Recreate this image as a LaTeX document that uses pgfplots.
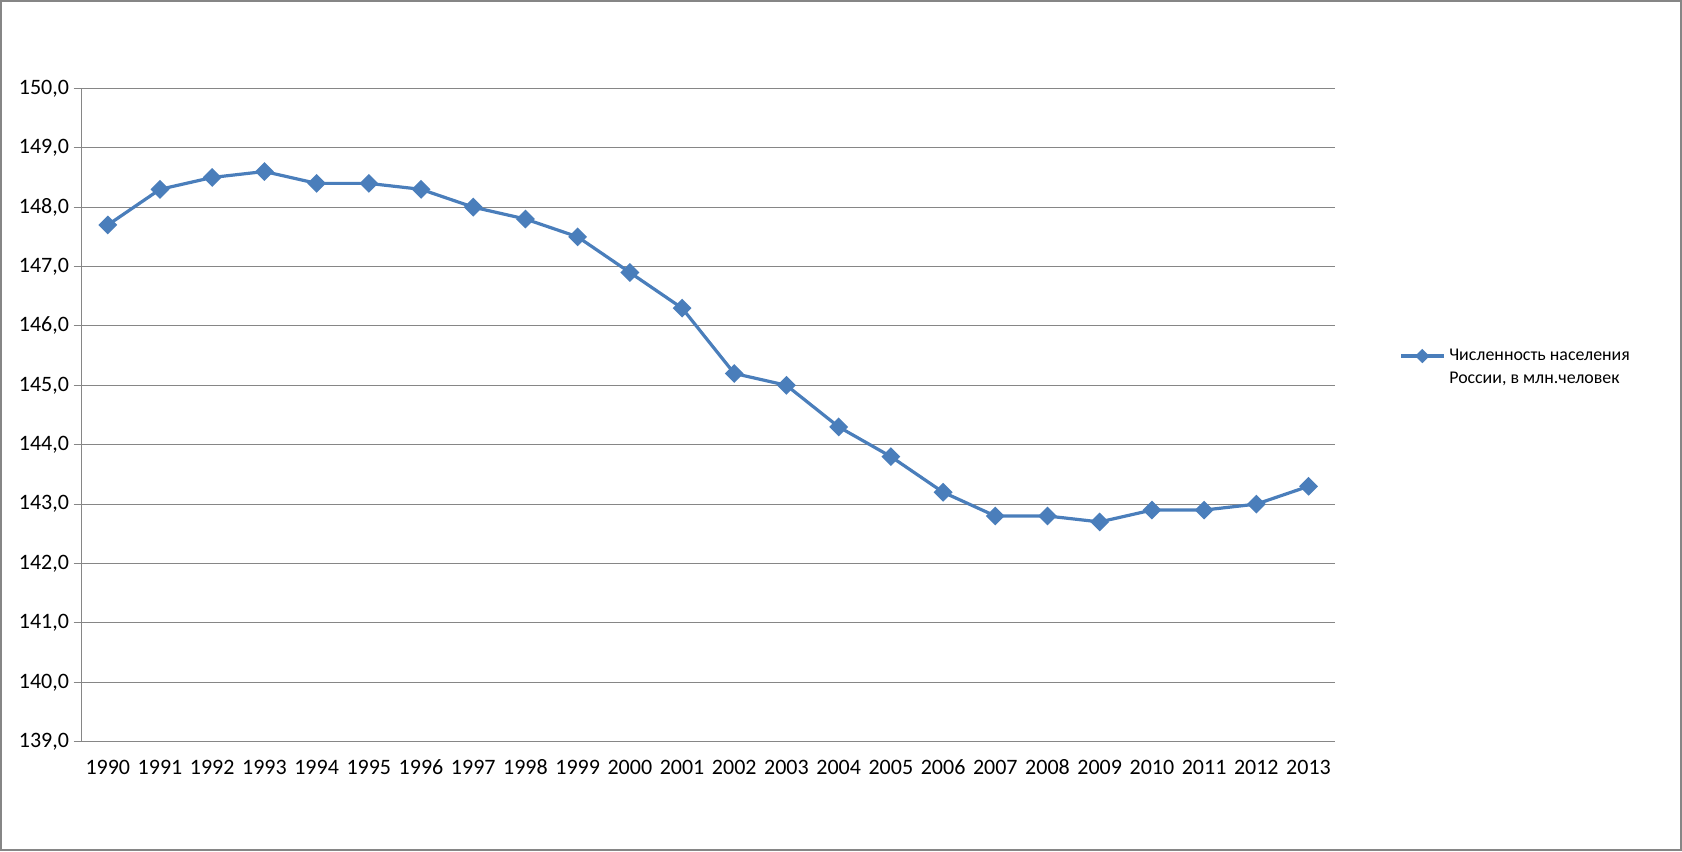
\documentclass[border=0pt]{standalone}
\usepackage{pgfplots}
\pgfplotsset{compat=1.18}
\usepackage{fontspec}
\setmainfont{Carlito}
\definecolor{serblue}{HTML}{4A7EBB}
\definecolor{gridgray}{HTML}{868686}

\begin{document}
\begin{tikzpicture}[x=0.75pt,y=0.75pt]
\useasboundingbox (0,0) rectangle (1682,851);
\draw[gridgray, line width=1.5pt] (1,1) rectangle (1681,850);
\begin{axis}[
  at={(61.275pt,81.975pt)}, anchor=south west,
  scale only axis, width=939.7pt, height=490pt,
  xmin=-0.5, xmax=23.5, ymin=139, ymax=150,
  axis x line*=bottom, axis y line*=left,
  axis line style={gridgray, line width=0.8pt},
  xtick={0,...,23},
  xticklabels={1990,1991,1992,1993,1994,1995,1996,1997,1998,1999,2000,2001,2002,2003,2004,2005,2006,2007,2008,2009,2010,2011,2012,2013},
  major x tick style={draw=none},
  xticklabel style={yshift=-4pt},
  extra x ticks={-0.5,0.5,...,23.5},
  extra x tick labels={},
  extra x tick style={major tick length=5pt, tick align=outside, major tick style={gridgray, line width=0.8pt}, grid=none},
  ytick={139,...,150},
  ymajorgrids,
  grid style={gridgray, line width=0.8pt},
  ytick style={gridgray, line width=0.8pt},
  tick align=outside,
  major tick length=6pt,
  /pgf/number format/assume math mode=true,
  yticklabel style={/pgf/number format/fixed, /pgf/number format/fixed zerofill, /pgf/number format/precision=1, /pgf/number format/use comma},
  ticklabel style={font=\fontsize{16.5}{19}\selectfont, text=black},
  legend style={draw=none, fill=none, at={(1.0483,0.585)}, anchor=west,
    font=\fontsize{13.4}{17}\selectfont, column sep=1pt},
  legend cell align=left,
  legend image code/.code={\draw[mark repeat=2, mark phase=2, #1, mark size=2.6pt] plot coordinates {(0pt,2.6pt) (16pt,2.6pt) (32pt,2.6pt)};},
]
\addplot[serblue, line width=2.4pt, mark=square*, mark size=3.8pt, mark options={rotate=45, solid}] coordinates {
  (0,147.7) (1,148.3) (2,148.5) (3,148.6) (4,148.4) (5,148.4) (6,148.3) (7,148.0)
  (8,147.8) (9,147.5) (10,146.9) (11,146.3) (12,145.2) (13,145.0) (14,144.3) (15,143.8)
  (16,143.2) (17,142.8) (18,142.8) (19,142.7) (20,142.9) (21,142.9) (22,143.0) (23,143.3)
};
\addlegendentry{\begin{tabular}{@{}l@{}}Численность населения\\России, в млн.человек\end{tabular}}
\end{axis}
\end{tikzpicture}
\end{document}
